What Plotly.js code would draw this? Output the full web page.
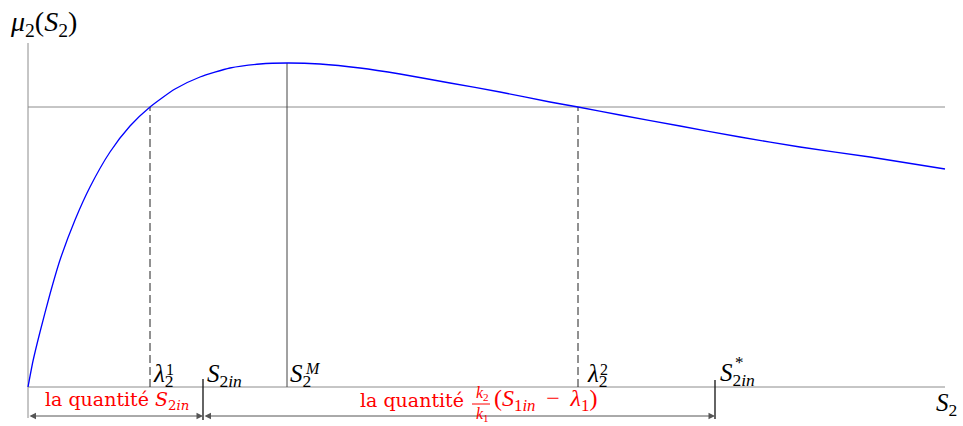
<!DOCTYPE html>
<html>
<head>
<meta charset="utf-8">
<script src="https://cdn.plot.ly/plotly-3.0.1.min.js"></script>
<style>
  html, body { margin: 0; padding: 0; background: #fff; }
  #chart { width: 963px; height: 426px; }
</style>
</head>
<body>
<div id="chart"></div>
<script>
// values (arbitrary units)
const S2 = [0, 0.05, 0.12, 0.22, 0.32, 0.47, 0.62, 0.82, 1.02, 1.22, 1.47, 1.72, 2.02, 2.32, 2.59,
            2.92, 3.32, 3.72, 4.22, 4.72, 5.22, 5.50, 5.92, 6.52, 7.12, 7.72, 8.42, 9.17];
const mu2 = [0, 0.26, 0.55, 0.93, 1.27, 1.67, 2.00, 2.35, 2.61, 2.80, 2.98, 3.10, 3.19, 3.23, 3.24,
             3.23, 3.19, 3.13, 3.04, 2.95, 2.85, 2.80, 2.72, 2.61, 2.50, 2.40, 2.30, 2.18];

const level = 2.80;      // horizontal line
const lambda1 = 1.22;
const lambda2 = 5.50;
const S2M = 2.59;
const muMax = 3.24;
const S2in = 1.75;
const S2inStar = 6.87;
const S2end = 9.17;

const GREY = '#8c8c8c';
const RED = '#ff0000';
const MATH = 'Liberation Serif';
const ROMAN = 'DejaVu Serif';

function seg(x, y, color, width, dash) {
  return { type: 'scatter', mode: 'lines', x: x, y: y, hoverinfo: 'skip',
           line: { color: color, width: width, dash: dash || 'solid' } };
}

const traces = [
  seg([0, S2end], [0, 0], GREY, 1),                 // S2 axis
  seg([0, 0], [-0.31, 3.44], GREY, 1),              // mu axis
  seg([0, S2end], [level, level], GREY, 1),         // level
  seg([lambda1, lambda1], [0, level], '#222', 1, '8px,4px'),
  seg([lambda2, lambda2], [0, level], '#222', 1, '8px,4px'),
  seg([S2M, S2M], [0, muMax], '#444', 1),
  seg([S2in, S2in], [0.08, -0.33], '#111', 1.3),
  seg([S2inStar, S2inStar], [0.07, -0.32], '#111', 1.3),
  { type: 'scatter', mode: 'lines', x: S2, y: mu2, hoverinfo: 'skip',
    line: { color: '#0000ff', width: 1.3, shape: 'spline', smoothing: 0.6 } }
];

const dimY = -0.29;
function dim(x0, x1) {
  return { x: x1, y: dimY, ax: x0, ay: dimY, axref: 'x', ayref: 'y', xref: 'x', yref: 'y',
           text: '', showarrow: true, arrowside: 'end+start', arrowhead: 2, startarrowhead: 2,
           arrowsize: 1.3, startarrowsize: 1.3, arrowwidth: 1, arrowcolor: '#555' };
}

function lbl(text, x, y, size, opts) {
  return Object.assign({ x: x, y: y, xref: 'x', yref: 'y', text: text, showarrow: false,
           xanchor: 'left', yanchor: 'middle', font: { family: MATH, size: size, color: '#000' } }, opts || {});
}

const annotations = [
  dim(0, S2in),
  dim(S2in, S2inStar),
  lbl('<i>μ</i><sub>2</sub>(<i>S</i><sub>2</sub>)', 0, 3.64, 28, { xshift: -20 }),
  lbl('<i>S</i><sub>2</sub>', S2end, -0.17, 25, { xshift: -11 }),
  lbl('<i>λ</i><sub>2</sub>', lambda1, 0.12, 25, { xshift: 1 }),
  lbl('1', lambda1, 0.18, 16, { xshift: 14 }),
  lbl('<i>S</i><sub>2<i>in</i></sub>', S2in, 0.12, 25, { xshift: 2 }),
  lbl('<i>S</i><sub>2</sub>', S2M, 0.12, 25, { xshift: 1 }),
  lbl('<i>M</i>', S2M, 0.19, 16, { xshift: 16 }),
  lbl('<i>λ</i><sub>2</sub>', lambda2, 0.12, 25, { xshift: 7 }),
  lbl('2', lambda2, 0.18, 16, { xshift: 20 }),
  lbl('<i>S</i><sub>2<i>in</i></sub>', S2inStar, 0.13, 25, { xshift: 3 }),
  lbl('*', S2inStar, 0.25, 17, { xshift: 18 }),
  // red quantities
  lbl('la quantité <i>S</i><sub>2<i>in</i></sub>', S2in / 2, -0.13, 19,
      { xanchor: 'center', xshift: 1, font: { family: ROMAN, size: 19, color: RED } }),
  lbl('la quantité', S2in, -0.13, 19,
      { xanchor: 'right', xshift: 263, font: { family: ROMAN, size: 19, color: RED } }),
  lbl('<i>k</i><sub>2</sub><br><i>k</i><sub>1</sub>', S2in, -0.17, 16,
      { xanchor: 'center', xshift: 279, font: { family: MATH, size: 16, color: RED } }),
  lbl('(<i>S</i><sub>1<i>in</i></sub> \u2009−\u2009 <i>λ</i><sub>1</sub>)', S2in, -0.13, 24,
      { xshift: 289, font: { family: MATH, size: 24, color: RED } })
];

const shapes = [
  { type: 'line', xref: 'x', yref: 'y', x0: S2in + 2.69, x1: S2in + 2.87, y0: -0.17, y1: -0.17,
    line: { color: RED, width: 1 } }
];

const layout = {
  width: 963, height: 426,
  margin: { l: 0, r: 0, t: 0, b: 0 },
  paper_bgcolor: '#fff', plot_bgcolor: '#fff',
  showlegend: false,
  xaxis: { range: [-0.28, 9.35], visible: false, fixedrange: true },
  yaxis: { range: [-0.39, 3.87], visible: false, fixedrange: true },
  annotations: annotations,
  shapes: shapes
};

Plotly.newPlot('chart', traces, layout, { displayModeBar: false, staticPlot: true });
</script>
</body>
</html>
